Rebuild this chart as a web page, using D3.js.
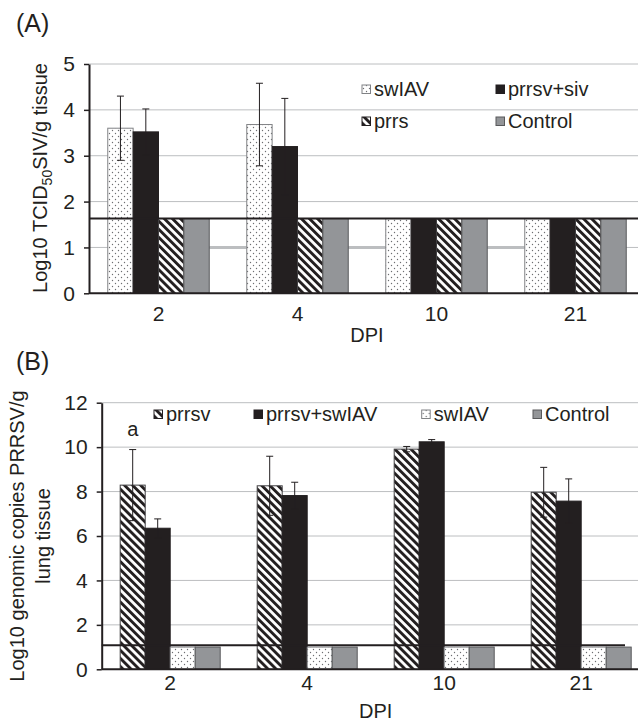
<!DOCTYPE html>
<html>
<head>
<meta charset="utf-8">
<script src="https://cdn.jsdelivr.net/npm/d3@7"></script>
<style>
  body { margin: 0; background: #fff; }
  text { font-family: "Liberation Sans", Arial, sans-serif; fill: #231f20; }
</style>
</head>
<body>
<div id="chart"></div>
<script>
const days = ["2", "4", "10", "21"];

// panel A: Log10 TCID50 SIV/g tissue
const seriesA = ["swIAV", "prrsv+siv", "prrs", "Control"];
const swiavA = [3.6, 3.68, 1.63, 1.63];
const coinfA = [3.52, 3.2, 1.63, 1.63];
const prrsA = [1.63, 1.63, 1.63, 1.63];
const controlA = [1.63, 1.63, 1.63, 1.63];
const swiavErrA = [0.7, 0.9, 0, 0];
const coinfErrA = [0.5, 1.05, 0, 0];
const limitA = 1.63;
const gapLineA = 1;
const yTicksA = [0, 1, 2, 3, 4, 5];

// panel B: Log10 genomic copies PRRSV/g lung tissue
const seriesB = ["prrsv", "prrsv+swIAV", "swIAV", "Control"];
const prrsvB = [8.29, 8.26, 9.91, 7.97];
const coinfB = [6.35, 7.82, 10.24, 7.57];
const swiavB = [1, 1, 1, 1];
const controlB = [1, 1, 1, 1];
const prrsvErrB = [1.6, 1.33, 0.12, 1.12];
const coinfErrB = [0.42, 0.6, 0.1, 1.0];
const limitB = 1.08;
const yTicksB = [0, 2, 4, 6, 8, 10, 12];

const W = 638, H = 721;

let svg = d3.select("#chart").append("svg")
  .attr("width", W)
  .attr("height", H);

let defs = svg.append("defs");

// diagonal stripes "\\\"
let hatch = defs.append("pattern")
  .attr("id", "hatch")
  .attr("patternUnits", "userSpaceOnUse")
  .attr("width", 5.7)
  .attr("height", 10)
  .attr("patternTransform", "rotate(-45)");
hatch.append("rect").attr("width", 5.7).attr("height", 10).attr("fill", "#fff");
hatch.append("rect").attr("width", 2.9).attr("height", 10).attr("fill", "#231f20");

// fine dots
let dots = defs.append("pattern")
  .attr("id", "dots")
  .attr("patternUnits", "userSpaceOnUse")
  .attr("width", 6)
  .attr("height", 6);
dots.append("rect").attr("width", 6).attr("height", 6).attr("fill", "#fff");
dots.append("circle").attr("cx", 1.5).attr("cy", 1.5).attr("r", 0.7).attr("fill", "#6d6e71");
dots.append("circle").attr("cx", 4.5).attr("cy", 4.5).attr("r", 0.7).attr("fill", "#6d6e71");

const style = {
  "swIAV": { fill: "url(#dots)", stroke: "#808285" },
  "prrsv+siv": { fill: "#231f20", stroke: "#231f20" },
  "prrsv+swIAV": { fill: "#231f20", stroke: "#231f20" },
  "prrs": { fill: "url(#hatch)", stroke: "#414042" },
  "prrsv": { fill: "url(#hatch)", stroke: "#414042" },
  "Control": { fill: "#939598", stroke: "#58595b" }
};

function drawPanel(cfg) {
  let g = svg.append("g");

  let x = d3.scaleBand()
    .domain(days)
    .range([cfg.left, cfg.right])
    .paddingInner(0.27)
    .paddingOuter(0.135);

  let xs = d3.scaleBand()
    .domain(cfg.series)
    .range([0, x.bandwidth()]);

  let y = d3.scaleLinear()
    .domain(cfg.domain)
    .range([cfg.bottom, cfg.top]);

  // gridlines
  g.append("g")
    .selectAll("line")
    .data(cfg.ticks.filter((t) => t > 0))
    .join("line")
    .attr("x1", cfg.left)
    .attr("x2", W)
    .attr("y1", (d) => y(d))
    .attr("y2", (d) => y(d))
    .attr("stroke", "#bcbec0")
    .attr("stroke-width", 1);

  // thicker grey line segments between groups (panel A)
  if (cfg.gapLine !== undefined) {
    g.append("g")
      .selectAll("line")
      .data(days.slice(0, -1))
      .join("line")
      .attr("x1", (d) => x(d) + x.bandwidth())
      .attr("x2", (d, i) => x(days[i + 1]))
      .attr("y1", y(cfg.gapLine))
      .attr("y2", y(cfg.gapLine))
      .attr("stroke", "#bcbec0")
      .attr("stroke-width", 3);
  }

  // bars
  let rows = [];
  cfg.series.forEach((s, si) => {
    days.forEach((d, di) => {
      rows.push({ series: s, day: d, value: cfg.values[si][di], err: cfg.errors[si][di] });
    });
  });

  g.append("g")
    .selectAll("rect")
    .data(rows)
    .join("rect")
    .attr("x", (d) => x(d.day) + xs(d.series))
    .attr("y", (d) => y(d.value))
    .attr("width", xs.bandwidth())
    .attr("height", (d) => y(0) - y(d.value))
    .attr("fill", (d) => style[d.series].fill)
    .attr("stroke", (d) => style[d.series].stroke)
    .attr("stroke-width", 1);

  // error bars
  let eb = g.append("g")
    .selectAll("g")
    .data(rows.filter((d) => d.err > 0))
    .join("g")
    .attr("stroke", "#231f20")
    .attr("stroke-width", 1);
  const cx = (d) => x(d.day) + xs(d.series) + xs.bandwidth() / 2;
  eb.append("line")
    .attr("x1", cx).attr("x2", cx)
    .attr("y1", (d) => y(d.value - d.err))
    .attr("y2", (d) => y(d.value + d.err));
  eb.append("line")
    .attr("x1", (d) => cx(d) - 3.5).attr("x2", (d) => cx(d) + 3.5)
    .attr("y1", (d) => y(d.value + d.err))
    .attr("y2", (d) => y(d.value + d.err));
  eb.append("line")
    .attr("x1", (d) => cx(d) - 3.5).attr("x2", (d) => cx(d) + 3.5)
    .attr("y1", (d) => y(d.value - d.err))
    .attr("y2", (d) => y(d.value - d.err));

  // detection limit line
  g.append("line")
    .attr("x1", cfg.left)
    .attr("x2", cfg.limitEnd)
    .attr("y1", y(cfg.limit))
    .attr("y2", y(cfg.limit))
    .attr("stroke", "#231f20")
    .attr("stroke-width", 2);

  // axes
  let yAxis = g.append("g")
    .attr("transform", `translate(${cfg.left},0)`)
    .call(d3.axisLeft(y).tickValues(cfg.ticks).tickFormat(d3.format("d"))
      .tickSize(5).tickSizeOuter(0).tickPadding(cfg.yPad));
  yAxis.select(".domain").attr("stroke", "#231f20").attr("stroke-width", 2);
  yAxis.selectAll(".tick line").attr("stroke", "#231f20").attr("stroke-width", 1.5);
  yAxis.selectAll("text").style("font-size", "21px").attr("fill", "#231f20");

  let xAxis = g.append("g")
    .attr("transform", `translate(0,${cfg.bottom})`)
    .call(d3.axisBottom(x).tickSize(0).tickPadding(cfg.xPad));
  xAxis.select(".domain").attr("stroke", "#231f20").attr("stroke-width", 2)
    .attr("d", `M${cfg.left},0H${W}`);
  xAxis.selectAll("text").style("font-size", "21px").attr("fill", "#231f20");

  g.append("text")
    .attr("x", (cfg.left + cfg.right) / 2)
    .attr("y", cfg.dpiY)
    .attr("text-anchor", "middle")
    .style("font-size", "20px")
    .text("DPI");

  g.append("text")
    .attr("x", 16)
    .attr("y", cfg.labelY)
    .style("font-size", "25px")
    .text(cfg.label);

  // legend
  let leg = g.append("g")
    .selectAll("g")
    .data(cfg.legend)
    .join("g")
    .attr("transform", (d) => `translate(${d.x},${d.y})`);
  leg.append("rect")
    .attr("x", 0)
    .attr("y", -8)
    .attr("width", 8.5)
    .attr("height", 8.5)
    .attr("fill", (d) => style[d.name].fill)
    .attr("stroke", (d) => d.name === "prrs" || d.name === "prrsv" ? "#231f20" : style[d.name].stroke)
    .attr("stroke-width", 1);
  leg.append("text")
    .attr("x", 12)
    .attr("y", 0)
    .attr("dy", "0.35em")
    .attr("transform", "translate(0,-4)")
    .style("font-size", "20px")
    .text((d) => d.name);

  return { x, xs, y, g };
}

// panel A
let panelA = drawPanel({
  left: 89, right: 645, top: 64, bottom: 293.3,
  domain: [0, 5], ticks: yTicksA, yPad: 9, xPad: 13,
  series: seriesA,
  values: [swiavA, coinfA, prrsA, controlA],
  errors: [swiavErrA, coinfErrA, [0, 0, 0, 0], [0, 0, 0, 0]],
  limit: limitA, limitEnd: W, gapLine: gapLineA,
  dpiY: 342, label: "(A)", labelY: 32,
  legend: [
    { name: "swIAV", x: 362, y: 93 },
    { name: "prrsv+siv", x: 496, y: 93 },
    { name: "prrs", x: 362, y: 125 },
    { name: "Control", x: 496, y: 125 }
  ]
});

panelA.g.append("text")
  .attr("transform", "translate(47,178) rotate(-90)")
  .attr("text-anchor", "middle")
  .style("font-size", "20px")
  .call((t) => {
    t.append("tspan").text("Log10 TCID");
    t.append("tspan").attr("dy", 5).style("font-size", "14px").text("50");
    t.append("tspan").attr("dy", -5).text("SIV/g tissue");
  });

// panel B
let panelB = drawPanel({
  left: 101.7, right: 649.7, top: 402.7, bottom: 669.3,
  domain: [0, 12], ticks: yTicksB, yPad: 9, xPad: 6,
  series: seriesB,
  values: [prrsvB, coinfB, swiavB, controlB],
  errors: [prrsvErrB, coinfErrB, [0, 0, 0, 0], [0, 0, 0, 0]],
  limit: limitB, limitEnd: 625,
  dpiY: 718, label: "(B)", labelY: 370,
  legend: [
    { name: "prrsv", x: 154, y: 418 },
    { name: "prrsv+swIAV", x: 254, y: 418 },
    { name: "swIAV", x: 421.7, y: 418 },
    { name: "Control", x: 533, y: 418 }
  ]
});

let ttl = panelB.g.append("text")
  .attr("transform", "translate(24,536) rotate(-90)")
  .attr("text-anchor", "middle")
  .style("font-size", "20px");
ttl.append("tspan").attr("x", 0).attr("y", 0).text("Log10 genomic copies PRRSV/g");
ttl.append("tspan").attr("x", 0).attr("y", 26).text("lung tissue");

// significance letter above prrsv day 2
panelB.g.append("text")
  .attr("x", panelB.x(days[0]) + panelB.xs("prrsv") + panelB.xs.bandwidth() / 2)
  .attr("y", panelB.y(prrsvB[0] + prrsvErrB[0]) - 14)
  .attr("text-anchor", "middle")
  .style("font-size", "20px")
  .text("a");
</script>
</body>
</html>
